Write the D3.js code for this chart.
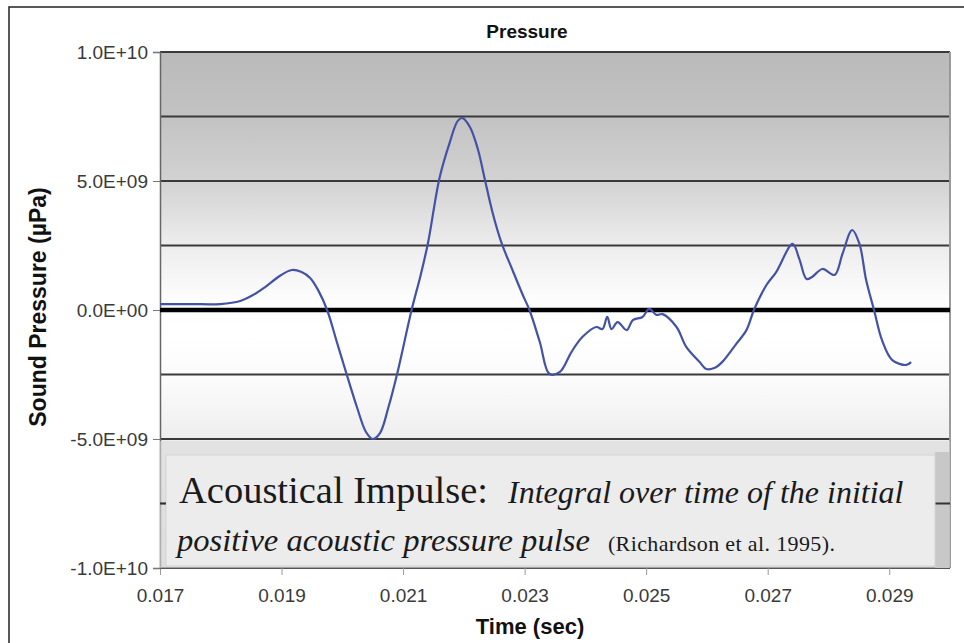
<!DOCTYPE html>
<html>
<head>
<meta charset="utf-8">
<script src="https://cdn.jsdelivr.net/npm/d3@7"></script>
<style>
  html, body { margin: 0; padding: 0; background: #ffffff; }
  svg { display: block; }
</style>
</head>
<body>
<svg id="chart" width="964" height="643"></svg>
<script>
// ---- data ----
const timeSec = [
  0.0170, 0.01749, 0.01799, 0.01832, 0.01853, 0.01873, 0.01897, 0.01917, 0.01933, 0.01947,
  0.01960, 0.01975, 0.01991, 0.02007, 0.02024, 0.02039, 0.02050, 0.02062, 0.02076, 0.02091,
  0.02114, 0.02129, 0.02141, 0.02160, 0.02177, 0.02190, 0.02198, 0.02210, 0.02223, 0.02234,
  0.02247, 0.02262, 0.02280, 0.02297, 0.02308, 0.02325, 0.02341, 0.02358, 0.02377, 0.02395,
  0.02418, 0.02428, 0.02436, 0.02443, 0.02453, 0.02468, 0.02478, 0.02494, 0.02505, 0.02517,
  0.02527, 0.02550, 0.02566, 0.02588, 0.02599, 0.02612, 0.02625, 0.02648, 0.02665, 0.02678,
  0.02698, 0.02714, 0.02741, 0.02752, 0.02764, 0.02773, 0.02790, 0.02810, 0.02823, 0.02839,
  0.02851, 0.02862, 0.02875, 0.02888, 0.02905, 0.02928, 0.02936
];
// sound pressure in units of 1e9 µPa
const pressureE9 = [
  0.23, 0.23, 0.23, 0.35, 0.58, 0.89, 1.32, 1.55, 1.47, 1.24,
  0.78, 0.00, -1.24, -2.48, -3.76, -4.73, -5.00, -4.77, -3.76, -2.40,
  0.00, 1.36, 2.60, 5.12, 6.51, 7.33, 7.44, 7.09, 6.24, 5.12,
  3.80, 2.60, 1.55, 0.58, 0.00, -1.24, -2.48, -2.40, -1.63, -1.05,
  -0.66, -0.74, -0.27, -0.74, -0.47, -0.78, -0.39, -0.27, 0.04, -0.19,
  -0.16, -0.66, -1.43, -2.02, -2.29, -2.25, -2.02, -1.32, -0.78, 0.04,
  0.97, 1.47, 2.56, 1.98, 1.20, 1.28, 1.59, 1.36, 2.17, 3.10,
  2.56, 1.16, 0.00, -1.16, -1.94, -2.13, -2.02
];
const xTickValues = [0.017, 0.019, 0.021, 0.023, 0.025, 0.027, 0.029];
const xTickLabels = ["0.017", "0.019", "0.021", "0.023", "0.025", "0.027", "0.029"];
const yTickValues = [-1e10, -5e9, 0, 5e9, 1e10];
const yTickLabels = ["-1.0E+10", "-5.0E+09", "0.0E+00", "5.0E+09", "1.0E+10"];
const gridValues = [-7.5e9, -5e9, -2.5e9, 2.5e9, 5e9, 7.5e9, 1e10];
const chartTitle = "Pressure";
const xTitle = "Time (sec)";
const yTitle = "Sound Pressure (µPa)";

// ---- layout ----
const svg = d3.select("#chart");
const L = 160, R = 950, T = 52, B = 568;
const x = d3.scaleLinear().domain([0.017, 0.030]).range([L, R]);
const y = d3.scaleLinear().domain([-1e10, 1e10]).range([B, T]);

// outer frame
svg.append("rect").attr("x", 9).attr("y", 7).attr("width", 1000).attr("height", 700)
  .attr("fill", "#ffffff").attr("stroke", "#222").attr("stroke-width", 1.5);

// plot background gradient
const defs = svg.append("defs");
const grad = defs.append("linearGradient").attr("id", "bg")
  .attr("x1", 0).attr("y1", 0).attr("x2", 0).attr("y2", 1);
[[0, "#bababa"], [0.12, "#c2c2c2"], [0.25, "#d2d2d2"], [0.37, "#ececec"],
 [0.48, "#fdfdfd"], [0.55, "#ffffff"], [0.65, "#fafafa"], [0.75, "#eeeeee"], [1, "#e2e2e2"]]
  .forEach(([o, c]) => grad.append("stop").attr("offset", o).attr("stop-color", c));

svg.append("rect").attr("x", L).attr("y", T).attr("width", R - L).attr("height", B - T)
  .attr("fill", "url(#bg)");

// grid lines
svg.append("g").selectAll("line").data(gridValues).join("line")
  .attr("x1", L).attr("x2", R)
  .attr("y1", d => y(d)).attr("y2", d => y(d))
  .attr("stroke", "#3a3a3a").attr("stroke-width", 2);

// plot frame right/bottom
svg.append("line").attr("x1", R).attr("x2", R).attr("y1", T).attr("y2", B)
  .attr("stroke", "#9a9a9a").attr("stroke-width", 2);
svg.append("line").attr("x1", L).attr("x2", R).attr("y1", B).attr("y2", B)
  .attr("stroke", "#555").attr("stroke-width", 2);

// axes
const xAxis = d3.axisBottom(x).tickValues(xTickValues)
  .tickFormat((d, i) => xTickLabels[i]).tickSize(7).tickPadding(14);
const gx = svg.append("g").attr("transform", `translate(0,${B})`).call(xAxis);
gx.select(".domain").remove();
gx.selectAll(".tick line").attr("stroke", "#999");
gx.selectAll(".tick text").attr("fill", "#3a3a3a")
  .style("font-family", "'Liberation Sans', Arial, sans-serif").style("font-size", "19px");

const yAxis = d3.axisLeft(y).tickValues(yTickValues)
  .tickFormat((d, i) => yTickLabels[i]).tickSize(7).tickPadding(5);
const gy = svg.append("g").attr("transform", `translate(${L},0)`).call(yAxis);
gy.select(".domain").attr("stroke", "#666").attr("stroke-width", 1.5);
gy.selectAll(".tick line").attr("stroke", "#777");
gy.selectAll(".tick text").attr("fill", "#3a3a3a")
  .style("font-family", "'Liberation Sans', Arial, sans-serif").style("font-size", "19px");

// zero line
svg.append("line").attr("x1", L).attr("x2", R).attr("y1", y(0)).attr("y2", y(0))
  .attr("stroke", "#000").attr("stroke-width", 4.5);

// data line
const pts = timeSec.map((t, i) => [t, pressureE9[i] * 1e9]);
const line = d3.line().x(d => x(d[0])).y(d => y(d[1])).curve(d3.curveCatmullRom.alpha(0.5));
svg.append("path").datum(pts).attr("d", line)
  .attr("fill", "none").attr("stroke", "#4452a6").attr("stroke-width", 2.2);

// annotation box (pasted image area)
svg.append("rect").attr("x", 160).attr("y", 441).attr("width", 790).attr("height", 127)
  .attr("fill", "#dadada").attr("opacity", 0.6);
svg.append("rect").attr("x", 935).attr("y", 452).attr("width", 14).attr("height", 116)
  .attr("fill", "#c8c8c8");
svg.append("line").attr("x1", 935).attr("x2", 950).attr("y1", y(-7.5e9)).attr("y2", y(-7.5e9))
  .attr("stroke", "#333").attr("stroke-width", 2);
svg.append("rect").attr("x", 166).attr("y", 455).attr("width", 769).attr("height", 111)
  .attr("fill", "#ececec").attr("stroke", "#d4d4d4").attr("stroke-width", 1);
svg.append("line").attr("x1", 160).attr("x2", 166).attr("y1", y(-7.5e9)).attr("y2", y(-7.5e9))
  .attr("stroke", "#333").attr("stroke-width", 2);

const serif = "'Liberation Serif', 'Times New Roman', serif";
const t1 = svg.append("text").attr("x", 179).attr("y", 503)
  .style("font-family", serif).attr("fill", "#1a1a1a");
t1.append("tspan").style("font-size", "38.5px").text("Acoustical Impulse:");
t1.append("tspan").style("font-size", "32px").style("font-style", "italic").attr("dx", 20)
  .text("Integral over time of the initial");
const t2 = svg.append("text").attr("x", 177).attr("y", 551)
  .style("font-family", serif).attr("fill", "#1a1a1a");
t2.append("tspan").style("font-size", "32.6px").style("font-style", "italic")
  .text("positive acoustic pressure pulse");
t2.append("tspan").style("font-size", "22px").attr("dx", 18)
  .attr("textLength", 227).attr("lengthAdjust", "spacing")
  .text("(Richardson et al. 1995).");

// titles
const sans = "'Liberation Sans', Arial, sans-serif";
svg.append("text").attr("x", 527).attr("y", 38).attr("text-anchor", "middle")
  .style("font-family", sans).style("font-weight", "bold").style("font-size", "19px")
  .attr("fill", "#111").text(chartTitle);
svg.append("text").attr("x", 530).attr("y", 634).attr("text-anchor", "middle")
  .style("font-family", sans).style("font-weight", "bold").style("font-size", "22px")
  .attr("fill", "#111").text(xTitle);
svg.append("text").attr("transform", "translate(46,307) rotate(-90)").attr("text-anchor", "middle")
  .style("font-family", sans).style("font-weight", "bold").style("font-size", "23px")
  .attr("fill", "#111").text(yTitle);
</script>
</body>
</html>
